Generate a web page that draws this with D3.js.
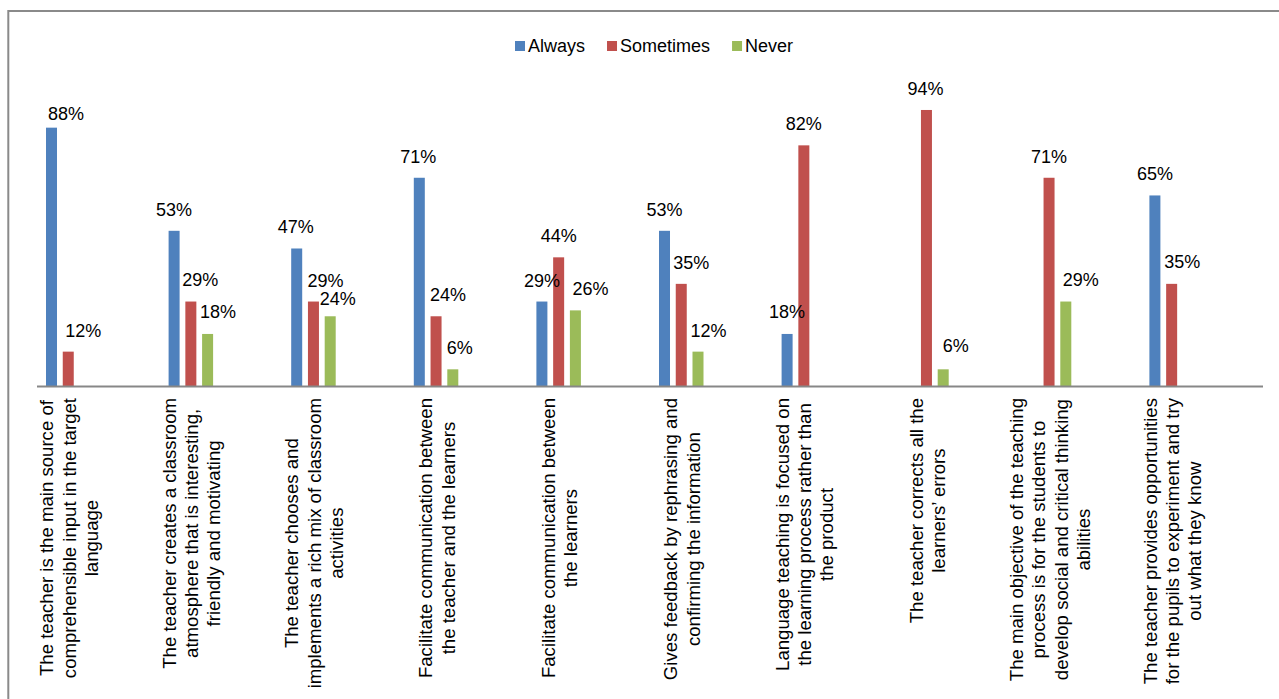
<!DOCTYPE html>
<html>
<head>
<meta charset="utf-8">
<script src="https://cdn.jsdelivr.net/npm/d3@7"></script>
<style>
  html, body { margin: 0; padding: 0; background: #ffffff; }
  svg { display: block; }
  text { font-family: "Liberation Sans", Arial, sans-serif; fill: #000; }
</style>
</head>
<body>
<svg id="chart" width="1279" height="699"></svg>
<script>
// Survey statements (one line per array entry, wrapped as in the printed chart)
const categories = [
  ["The teacher is the main source of", "comprehensible input in the target", "language"],
  ["The teacher creates a classroom", "atmosphere that is interesting,", "friendly and motivating"],
  ["The teacher chooses and", "implements a rich mix of classroom", "activities"],
  ["Facilitate communication between", "the teacher and the learners"],
  ["Facilitate communication between", "the learners"],
  ["Gives feedback by rephrasing and", "confirming the information"],
  ["Language teaching is focused on", "the learning process rather than", "the product"],
  ["The teacher corrects all the", "learners\u2019 errors"],
  ["The main objective of the teaching", "process is for the students to", "develop social and critical thinking", "abilities"],
  ["The teacher provides opportunities", "for the pupils to experiment and try", "out what they know"]
];

const seriesNames = ["Always", "Sometimes", "Never"];

// Percent of answers per statement (null = no answers in that group)
const always    = [88, 53, 47, 71, 29, 53, 18, null, null, 65];
const sometimes = [12, 29, 29, 24, 44, 35, 82, 94, 71, 35];
const never     = [null, 18, 24, 6, 26, 12, null, 6, 29, null];

// Hand-placed value labels: horizontal shift and lift above the bar top
const labelShiftX = [
  [14.5, 0, -1, -1, 0, 0, 0, 0, 0, 0],
  [15, 9.5, 12, 12, 0, 10, 0, -1, 0, 10.7],
  [0, 10.3, 7.5, 7, 15, 10.5, 0, 12.5, 15, 0]
];
const labelLift = [
  [8, 15, 15, 15, 14.5, 15, 15.5, 15, 15, 15.5],
  [15, 15.5, 14.5, 15, 15.5, 15, 15, 15, 15, 15.5],
  [15, 15.5, 11, 15, 15.5, 15, 15, 17.5, 15.5, 15]
];

const colors = ["#4F81BD", "#C0504D", "#9BBB59"];
const values = [always, sometimes, never];

const svg = d3.select("#chart");

// outer chart frame (right and bottom edges run off the page)
svg.append("rect")
  .attr("x", 8.3).attr("y", 11)
  .attr("width", 1320).attr("height", 720)
  .attr("fill", "#fff")
  .attr("stroke", "#8a8a8a")
  .attr("stroke-width", 2);

const catIdx = d3.range(categories.length);
const x0 = d3.scaleBand().domain(catIdx).range([37, 1263]).padding(0);
const x1 = d3.scaleBand().domain(d3.range(3)).range([9, 53.5]).paddingInner(0.343).paddingOuter(0);
const y = d3.scaleLinear().domain([0, 100]).range([387, 92.3]);

// bars
const rows = [];
values.forEach((arr, s) => arr.forEach((v, c) => {
  if (v !== null) rows.push({ s, c, v });
}));

svg.append("g").selectAll("rect")
  .data(rows)
  .join("rect")
  .attr("x", d => x0(d.c) + x1(d.s))
  .attr("y", d => y(d.v))
  .attr("width", x1.bandwidth())
  .attr("height", d => y(0) - y(d.v))
  .attr("fill", d => colors[d.s]);

// value labels
svg.append("g").selectAll("text")
  .data(rows)
  .join("text")
  .attr("x", d => x0(d.c) + x1(d.s) + x1.bandwidth() / 2 + labelShiftX[d.s][d.c])
  .attr("y", d => y(d.v) - labelLift[d.s][d.c])
  .attr("text-anchor", "middle")
  .attr("font-size", 18)
  .text(d => d.v + "%");

// category axis line
svg.append("line")
  .attr("x1", x0.range()[0]).attr("x2", x0.range()[1])
  .attr("y1", 386.5).attr("y2", 386.5)
  .attr("stroke", "#878787")
  .attr("stroke-width", 2);

// rotated, centred category labels hanging below the axis
const lineGap = 22.3;
const labelTop = 398;
const groupMid = (x1.range()[0] + x1.range()[1]) / 2 + 0.5;

categories.forEach((lines, c) => {
  const t = svg.append("text")
    .attr("transform", "rotate(-90)")
    .attr("text-anchor", "middle")
    .attr("font-size", 18.6);
  const cx = x0(c) + groupMid;
  const n = lines.length;
  const spans = lines.map((ln, j) =>
    t.append("tspan")
      .attr("y", cx + 6.8 + (j - (n - 1) / 2) * lineGap)
      .text(ln)
  );
  const maxLen = d3.max(spans, sp => sp.node().getComputedTextLength());
  spans.forEach(sp => sp.attr("x", -(labelTop + maxLen / 2)));
});

// legend
const legend = svg.append("g").attr("transform", "translate(515,0)");
let lx = 0;
seriesNames.forEach((name, i) => {
  legend.append("rect")
    .attr("x", lx).attr("y", 41)
    .attr("width", 10).attr("height", 10)
    .attr("fill", colors[i]);
  const tx = legend.append("text")
    .attr("x", lx + 13).attr("y", 51.5)
    .attr("font-size", 18)
    .text(name);
  lx += 13 + tx.node().getComputedTextLength() + 22;
});
</script>
</body>
</html>
